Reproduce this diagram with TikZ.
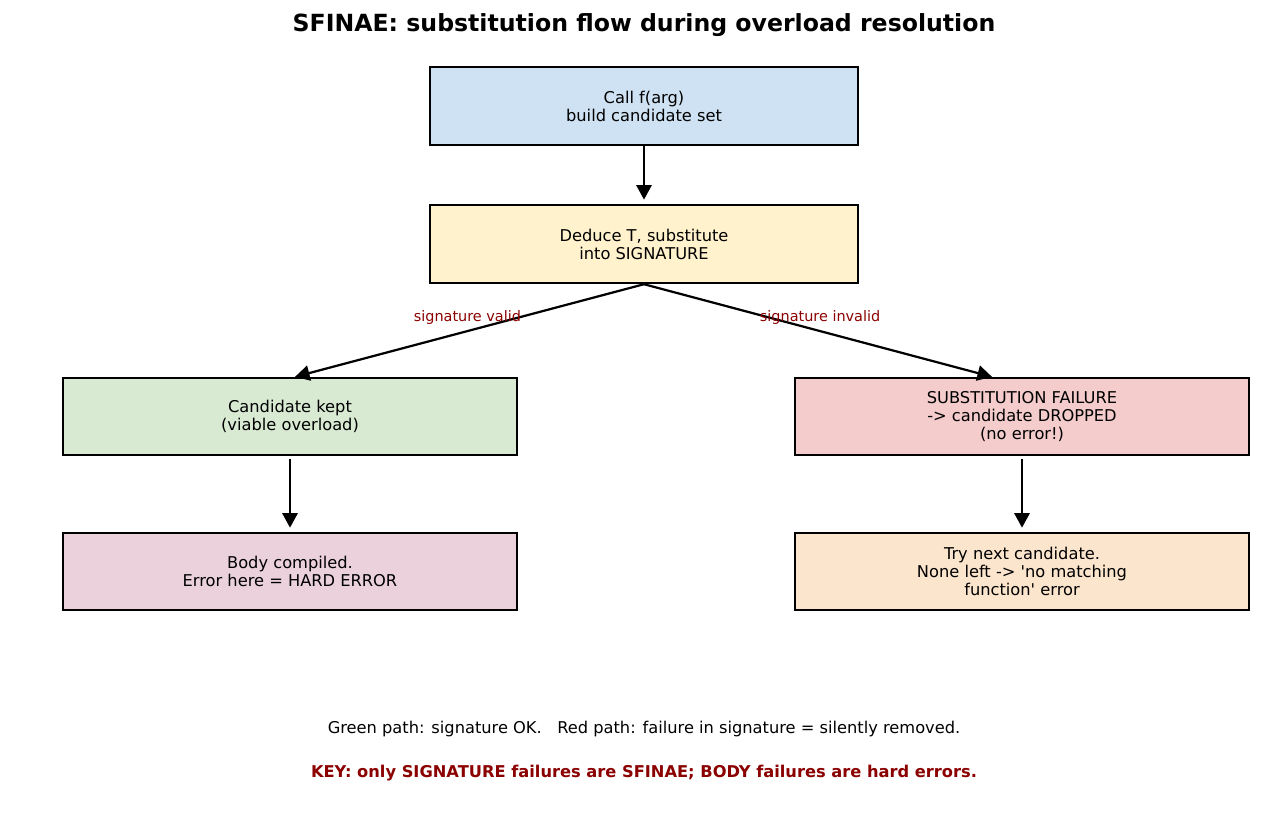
\documentclass[tikz,border=0pt]{standalone}
\usepackage{fontspec}
\setmainfont{DejaVu Sans}
\usetikzlibrary{arrows.meta}

\definecolor{callblue}{HTML}{CFE2F3}
\definecolor{deduceyellow}{HTML}{FFF2CC}
\definecolor{keptgreen}{HTML}{D9EAD3}
\definecolor{failred}{HTML}{F4CCCC}
\definecolor{bodypink}{HTML}{EAD1DC}
\definecolor{tryorange}{HTML}{FCE5CD}
\definecolor{keyred}{HTML}{8B0000}

\tikzset{
  stepbox/.style={draw=black, line width=1.7pt, align=center, inner sep=0pt,
    font=\fontsize{11.7}{13}\selectfont},
  narrowbox/.style={stepbox, minimum width=308.2pt, minimum height=56.2pt},
  widebox/.style={stepbox, minimum width=326.9pt, minimum height=55.4pt},
  flow/.style={-{Triangle[length=10.5pt,width=11pt]}, line width=1.6pt},
  branchlabel/.style={text=keyred, font=\fontsize{10.4}{12}\selectfont}
}

\begin{document}
\begin{tikzpicture}[x=0.72pt, y=-0.72pt]
% Fix the page to the picture size
\useasboundingbox (0,0) rectangle (1287,831);
% Draw the title
\node (title) at (644,25) {\fontsize{17}{20}\selectfont\bfseries SFINAE: substitution flow during overload resolution};
% Draw the steps
\node[narrowbox, fill=callblue] (call) at (644,106) {Call f(arg)\\build candidate set};
\node[narrowbox, fill=deduceyellow] (deduce) at (644,244) {Deduce T, substitute\\into SIGNATURE};
\node[widebox, fill=keptgreen] (kept) at (290,416.5) {Candidate kept\\(viable overload)};
\node[widebox, fill=failred] (fail) at (1022,416.5) {SUBSTITUTION FAILURE\\-> candidate DROPPED\\(no error!)};
\node[widebox, fill=bodypink] (body) at (290,571.5) {Body compiled.\\Error here = HARD ERROR};
\node[widebox, fill=tryorange] (next) at (1022,571.5) {Try next candidate.\\None left -> \textquotesingle no matching\\function\textquotesingle{} error};
% Draw the arrows
\draw[flow, shorten >=3pt] (call) -- (deduce);
\draw[flow] (deduce.south) -- ([xshift=3.6pt]kept.north)
  node[branchlabel, midway, xshift=-1.5pt, yshift=9.5pt] {signature valid};
\draw[flow] (deduce.south) -- ([xshift=-21.6pt]fail.north)
  node[branchlabel, midway, xshift=1.5pt, yshift=9.5pt] {signature invalid};
\draw[flow, shorten <=2pt, shorten >=3pt] (kept) -- (body);
\draw[flow, shorten <=2pt, shorten >=3pt] (fail) -- (next);
% Draw the notes
\node[font=\fontsize{11.7}{13}\selectfont] (note) at (644,729) {Green path: signature OK.\ \ \ Red path: failure in signature = silently removed.};
\node[font=\fontsize{11.7}{13}\selectfont\bfseries, text=keyred] (key) at (644,773) {KEY: only SIGNATURE failures are SFINAE; BODY failures are hard errors.};
\end{tikzpicture}
\end{document}
